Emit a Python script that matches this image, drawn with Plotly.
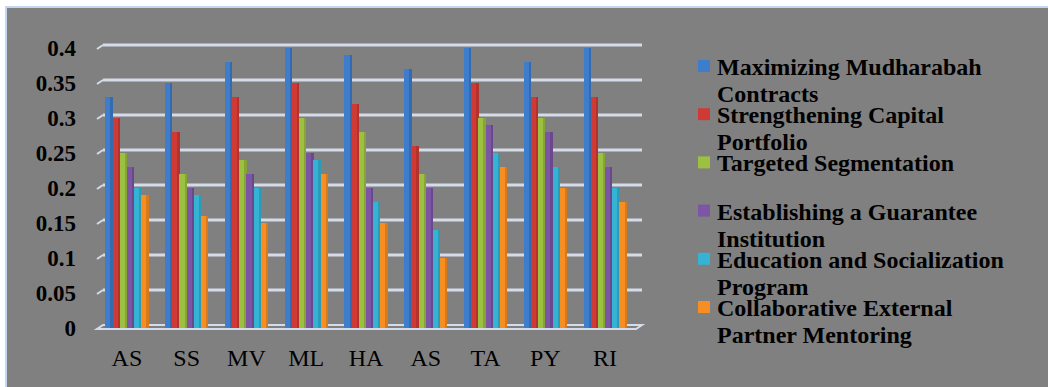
import plotly.graph_objects as go

# Strategy scores per respondent group
categories = ["AS", "SS", "MV", "ML", "HA", "AS", "TA", "PY", "RI"]

series_names = [
    "Maximizing Mudharabah<br>Contracts",
    "Strengthening Capital<br>Portfolio",
    "Targeted Segmentation",
    "Establishing a Guarantee<br>Institution",
    "Education and Socialization<br>Program",
    "Collaborative External<br>Partner Mentoring",
]

mudharabah = [0.33, 0.35, 0.38, 0.40, 0.39, 0.37, 0.40, 0.38, 0.40]
capital = [0.30, 0.28, 0.33, 0.35, 0.32, 0.26, 0.35, 0.33, 0.33]
segmentation = [0.25, 0.22, 0.24, 0.30, 0.28, 0.22, 0.30, 0.30, 0.25]
guarantee = [0.23, 0.20, 0.22, 0.25, 0.20, 0.20, 0.29, 0.28, 0.23]
education = [0.20, 0.19, 0.20, 0.24, 0.18, 0.14, 0.25, 0.23, 0.20]
mentoring = [0.19, 0.16, 0.15, 0.22, 0.15, 0.10, 0.23, 0.20, 0.18]

y_tick_values = [0, 0.05, 0.1, 0.15, 0.2, 0.25, 0.3, 0.35, 0.4]
y_tick_labels = ["0", "0.05", "0.1", "0.15", "0.2", "0.25", "0.3", "0.35", "0.4"]

all_series = [mudharabah, capital, segmentation, guarantee, education, mentoring]
front_colors = ["#3D7DCC", "#D03A35", "#9CC03F", "#7C55A5", "#34B3D4", "#F68E22"]
side_colors = ["#336AB0", "#B3322E", "#86A536", "#69488D", "#2C9BB8", "#D8791C"]

# plot-area pixel frame (figure is 1048 x 387)
FIG_W, FIG_H = 1048, 387
L, R, T, B = 97, 635, 48, 328
W, H = R - L, B - T


def px(xpix):
    return (xpix - L) / W


def py(ypix):
    return (B - ypix) / H


GRAY = "#808080"
GRID = "#D3DCE8"
SERIF = "Liberation Serif"

fig = go.Figure()

x_pos = list(range(len(categories)))
slot = 0.12
front_w = 0.095
for i, (vals, fc, sc) in enumerate(zip(all_series, front_colors, side_colors)):
    left = -0.36 + slot * i
    fig.add_trace(go.Bar(
        x=x_pos, y=vals, name=series_names[i].replace("<br>", " "),
        marker=dict(color=fc, line=dict(width=0)),
        width=front_w, offset=left, showlegend=False,
    ))
    fig.add_trace(go.Bar(
        x=x_pos, y=vals, name=series_names[i].replace("<br>", " "),
        marker=dict(color=sc, line=dict(width=0)),
        width=slot - front_w + 0.004, offset=left + front_w - 0.002, showlegend=False,
        hoverinfo="skip",
    ))

shapes = []
# chart background panel with light border
shapes.append(dict(
    type="rect", xref="paper", yref="paper", layer="below",
    x0=px(6), x1=px(FIG_W + 5), y0=py(7), y1=py(FIG_H + 5),
    fillcolor=GRAY, line=dict(color="#C5D7EE", width=2),
))
# back-wall gridlines with perspective stub on the left
dx, dy = 6, 3
for t in y_tick_values[1:]:
    yf = t / 0.4  # front position in paper units
    yb = yf + dy / H
    shapes.append(dict(type="line", xref="paper", yref="paper", layer="below",
                       x0=px(L + dx), x1=px(R + 7), y0=yb, y1=yb,
                       line=dict(color=GRID, width=3)))
    shapes.append(dict(type="line", xref="paper", yref="paper", layer="below",
                       x0=px(L), x1=px(L + dx), y0=yf - 1 / H, y1=yb,
                       line=dict(color=GRID, width=2)))
# floor
shapes.append(dict(
    type="path", xref="paper", yref="paper", layer="below",
    path=(f"M {px(L)},{py(B + 1)} L {px(R + 1)},{py(B + 1)} "
          f"L {px(R + 7)},{py(B - 3)} L {px(L + dx)},{py(B - 3)} Z"),
    fillcolor=GRAY, line=dict(color=GRID, width=2),
))

# legend built from text rows and colour keys
annotations = []
leg_x_text = 715
first_base = 74
pitch = 48.2
line_gap = 27
fs = 24
for i, name in enumerate(series_names):
    base = first_base + pitch * i
    cap_mid = base - 8
    shapes.append(dict(type="rect", xref="paper", yref="paper",
                       x0=px(698), x1=px(710), y0=py(cap_mid - 6), y1=py(cap_mid + 6),
                       fillcolor=front_colors[i], line=dict(width=0)))
    for j, line in enumerate(name.split("<br>")):
        annotations.append(dict(
            text=line, xref="paper", yref="paper",
            x=px(leg_x_text), y=py(base + j * line_gap - 7),
            xanchor="left", yanchor="middle", showarrow=False,
            font=dict(family=SERIF, size=fs, color="#000000", weight="bold"),
        ))

fig.update_layout(
    width=FIG_W, height=FIG_H,
    margin=dict(l=L, r=FIG_W - R, t=T, b=FIG_H - B),
    paper_bgcolor="#FFFFFF", plot_bgcolor="rgba(0,0,0,0)",
    barmode="overlay", bargap=0,
    shapes=shapes, annotations=annotations,
    showlegend=False,
    xaxis=dict(
        range=[-0.5, len(categories) - 0.5],
        tickvals=x_pos, ticktext=categories,
        showgrid=False, zeroline=False, showline=False, ticks="",
        tickfont=dict(family=SERIF, size=24, color="#000000"),
        ticklabelstandoff=13,
    ),
    yaxis=dict(
        range=[0, 0.4],
        tickvals=y_tick_values, ticktext=y_tick_labels,
        showgrid=False, zeroline=False, showline=False, ticks="",
        tickfont=dict(family=SERIF, size=23, color="#000000", weight="bold"),
        ticklabelstandoff=20,
    ),
)

fig.write_html("out.html")
